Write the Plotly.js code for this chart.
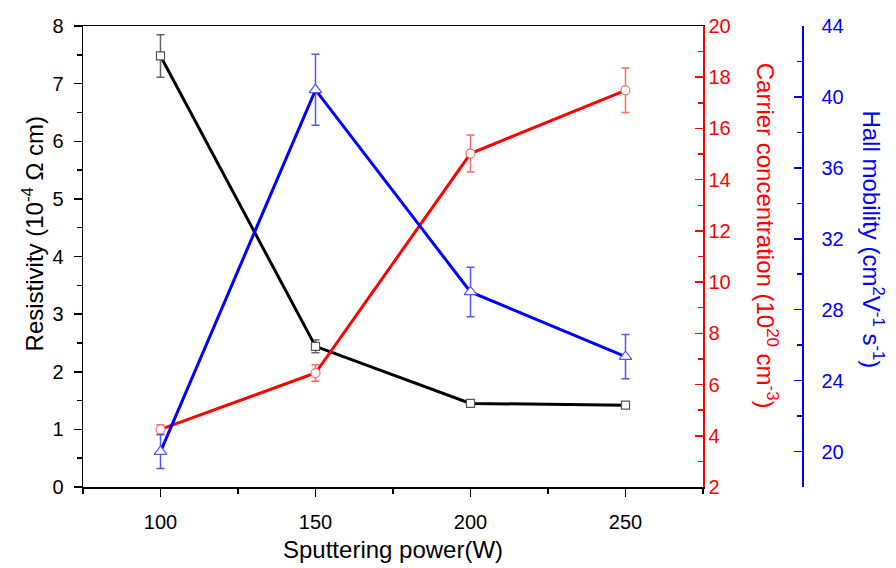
<!DOCTYPE html>
<html>
<head>
<meta charset="utf-8">
<script src="https://cdn.plot.ly/plotly-3.0.1.min.js"></script>
<style>html,body{margin:0;padding:0;background:#fff;}#chart{width:896px;height:568px;}</style>
</head>
<body>
<div id="chart"></div>
<script>
// Data
const power = [100, 150, 200, 250];
const resistivity = [7.48, 2.44, 1.45, 1.42];
const resistivityErr = [0.37, 0.11, 0.03, 0.03];
const carrier = [4.25, 6.45, 15.02, 17.49];
const carrierErr = [0.18, 0.32, 0.72, 0.87];
const mobility = [20.0, 40.4, 29.0, 25.35];
const mobilityErr = [0.95, 2.0, 1.4, 1.25];

const FONT = 'Liberation Sans, Arial, sans-serif';
const W = 896, ML = 83, MR = 20;
const plotW = W - ML - MR;
const xEnd = (703 - ML) / plotW;
const blueX = (802 - ML) / plotW;
const px = v => (v - ML) / plotW;

const traces = [
  {
    x: power, y: resistivity, type: 'scatter', mode: 'lines+markers',
    xaxis: 'x', yaxis: 'y',
    line: {color: '#000000', width: 3},
    marker: {symbol: 'square', size: 8, color: '#ffffff', line: {color: '#555555', width: 1.2}},
    error_y: {type: 'data', array: resistivityErr, visible: true, color: '#666666', thickness: 1.5, width: 4},
    hoverinfo: 'skip', showlegend: false
  },
  {
    x: power, y: carrier, type: 'scatter', mode: 'lines+markers',
    xaxis: 'x', yaxis: 'y2',
    line: {color: '#ff0000', width: 3},
    marker: {symbol: 'circle', size: 9, color: '#ffffff', line: {color: '#ff7070', width: 1.2}},
    error_y: {type: 'data', array: carrierErr, visible: true, color: '#ff6666', thickness: 1.5, width: 4},
    hoverinfo: 'skip', showlegend: false
  },
  {
    x: power, y: mobility, type: 'scatter', mode: 'lines+markers',
    xaxis: 'x', yaxis: 'y3',
    line: {color: '#0000ff', width: 3},
    marker: {symbol: 'triangle-up', size: 11, color: '#ffffff', line: {color: '#5555ff', width: 1.2}},
    error_y: {type: 'data', array: mobilityErr, visible: true, color: '#5555ff', thickness: 1.5, width: 4},
    hoverinfo: 'skip', showlegend: false
  }
];

const layout = {
  width: 896, height: 568,
  margin: {l: ML, r: MR, t: 26, b: 81},
  paper_bgcolor: '#ffffff', plot_bgcolor: 'rgba(0,0,0,0)',
  font: {family: FONT, size: 20, color: '#000'},
  showlegend: false,
  xaxis: {
    domain: [0, xEnd], range: [75, 275],
    tickmode: 'linear', tick0: 100, dtick: 50,
    ticks: 'outside', ticklen: 8, tickwidth: 1.5, tickcolor: '#000',
    minor: {dtick: 25, tick0: 75, ticks: 'outside', ticklen: 5, tickwidth: 1.5, tickcolor: '#000'},
    showline: true, linecolor: '#000', linewidth: 1.5, mirror: true,
    showgrid: false, zeroline: false,
    ticklabelstandoff: 8,
    tickfont: {family: FONT, size: 20, color: '#000'}
  },
  yaxis: {
    range: [0, 8], tickmode: 'linear', tick0: 0, dtick: 1,
    ticks: 'outside', ticklen: 8, tickwidth: 1.5, tickcolor: '#000',
    minor: {dtick: 0.5, ticks: 'outside', ticklen: 5, tickwidth: 1.5, tickcolor: '#000'},
    showline: true, linecolor: '#000', linewidth: 1.5,
    showgrid: false, zeroline: false,
    ticklabelstandoff: 6,
    tickfont: {family: FONT, size: 20, color: '#000'}
  },
  yaxis2: {
    overlaying: 'y', side: 'right', anchor: 'x',
    range: [2, 20], tickmode: 'linear', tick0: 2, dtick: 2,
    ticks: 'inside', ticklen: 8, tickwidth: 1.5, tickcolor: '#ff0000',
    minor: {dtick: 1, ticks: 'inside', ticklen: 5, tickwidth: 1.5, tickcolor: '#ff0000'},
    showline: true, linecolor: '#ff0000', linewidth: 1.5,
    showgrid: false, zeroline: false,
    tickfont: {family: FONT, size: 20, color: '#ff0000'}
  },
  yaxis3: {
    overlaying: 'y', side: 'right', anchor: 'free', position: blueX,
    range: [18, 44], tickmode: 'linear', tick0: 20, dtick: 4,
    ticks: 'inside', ticklen: 8, tickwidth: 1.5, tickcolor: '#0000ff',
    minor: {dtick: 2, ticks: 'inside', ticklen: 5, tickwidth: 1.5, tickcolor: '#0000ff'},
    showline: true, linecolor: '#0000ff', linewidth: 1.5,
    ticklabelstandoff: 14,
    showgrid: false, zeroline: false,
    tickfont: {family: FONT, size: 20, color: '#0000ff'}
  },
  annotations: [
    {text: 'Resistivity (10<sup>-4</sup> Ω cm)', xref: 'paper', yref: 'paper',
     x: px(33), y: 0.55, xanchor: 'center', yanchor: 'middle', textangle: -90,
     showarrow: false, font: {family: FONT, size: 24, color: '#000'}},
    {text: 'Carrier concentration (10<sup>20</sup> cm<sup>-3</sup>)', xref: 'paper', yref: 'paper',
     x: px(767), y: 0.545, xanchor: 'center', yanchor: 'middle', textangle: 90,
     showarrow: false, font: {family: FONT, size: 24, color: '#ff0000'}},
    {text: 'Hall mobility (cm<sup>2</sup>V<sup>-1</sup> s<sup>-1</sup>)', xref: 'paper', yref: 'paper',
     x: px(873), y: 0.537, xanchor: 'center', yanchor: 'middle', textangle: 90,
     showarrow: false, font: {family: FONT, size: 24, color: '#0000ff'}},
    {text: 'Sputtering power(W)', xref: 'paper', yref: 'paper',
     x: px(393), y: (487 - 549) / 461, xanchor: 'center', yanchor: 'middle',
     showarrow: false, font: {family: FONT, size: 24, color: '#000'}}
  ]
};

Plotly.newPlot('chart', traces, layout, {staticPlot: true, displayModeBar: false});
</script>
</body>
</html>
